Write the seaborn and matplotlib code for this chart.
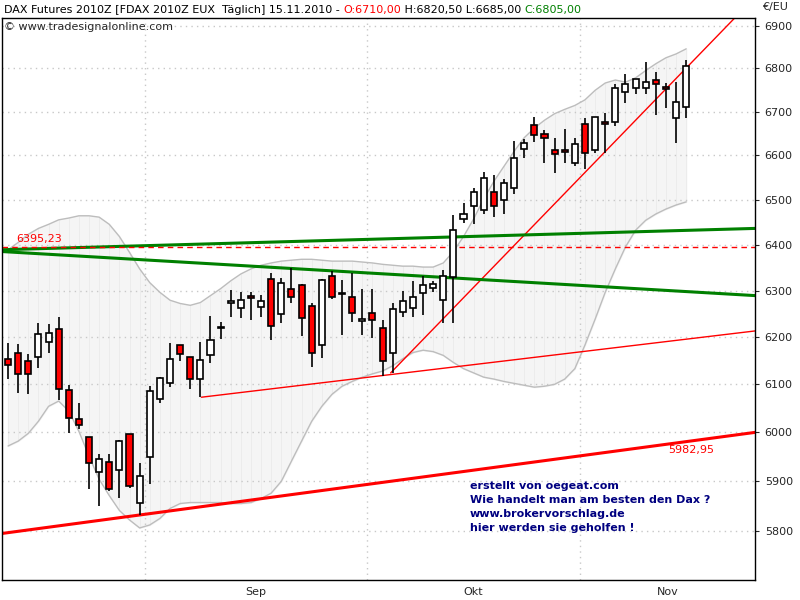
import numpy as np
import pandas as pd
import matplotlib
matplotlib.use("Agg")
import matplotlib.pyplot as plt
from matplotlib.ticker import FixedLocator, NullLocator
import seaborn as sns

dates = pd.bdate_range(end="2010-11-15", periods=68)
opens = [6154,6167,6150,6157,6189,6217,6088,6027,5990,5918,5939,5922,5996,5857,5949,6069,6102,6183,6157,6111,
         6161,6219,6274,6262,6289,6264,6325,6249,6304,6313,6266,6183,6332,6292,6287,6234,6251,6219,6166,6253,
         6262,6294,6306,6279,6330,6457,6486,6477,6516,6500,6527,6614,6669,6648,6612,6612,6583,6671,6612,6675,
         6675,6745,6754,6754,6773,6757,6684,6710]
highs = [6187,6185,6165,6230,6228,6243,6098,6060,5990,5955,5955,5984,5996,5937,6096,6115,6187,6183,6157,6189,
         6245,6232,6302,6296,6296,6291,6338,6328,6349,6315,6272,6326,6343,6323,6338,6304,6304,6236,6272,6300,
         6321,6332,6320,6345,6466,6493,6525,6563,6556,6547,6633,6636,6688,6657,6640,6660,6640,6684,6688,6697,
         6764,6786,6775,6816,6791,6766,6768,6820.5]
lows = [6111,6081,6079,6135,6167,6067,5998,6006,5884,5851,5880,5867,5886,5831,5894,6060,6094,6150,6090,6073,
        6144,6196,6243,6240,6236,6243,6194,6230,6274,6202,6136,6155,6281,6204,6232,6204,6198,6117,6124,6243,
        6243,6247,6296,6230,6230,6447,6445,6468,6461,6468,6513,6593,6631,6583,6560,6583,6576,6569,6605,6605,
        6667,6719,6740,6740,6693,6709,6627,6685]
closes = [6141,6122,6122,6206,6209,6090,6029,6015,5937,5945,5884,5982,5890,5910,6085,6113,6154,6163,6111,6152,
          6194,6221,6276,6279,6283,6277,6223,6317,6285,6240,6166,6323,6287,6294,6251,6238,6236,6150,6260,6277,
          6285,6311,6315,6332,6433,6468,6518,6549,6486,6538,6593,6629,6645,6640,6602,6607,6626,6605,6688,6671,
          6754,6764,6775,6768,6764,6753,6722,6805]
band_upper = [6389,6405,6423,6436,6445,6455,6459,6464,6464,6461,6445,6418,6383,6347,6317,6296,6279,6272,6268,6274,
              6289,6304,6321,6336,6347,6355,6360,6364,6366,6368,6368,6366,6364,6364,6364,6362,6360,6357,6355,6353,
              6353,6351,6351,6360,6385,6418,6457,6502,6541,6575,6609,6640,6662,6680,6695,6705,6714,6727,6749,6766,
              6773,6768,6778,6795,6811,6825,6834,6846]
band_lower = [5972,5982,5998,6023,6054,6065,6044,6002,5951,5904,5871,5841,5822,5806,5812,5825,5845,5855,5857,5857,
              5857,5857,5855,5855,5857,5865,5876,5900,5941,5982,6023,6054,6079,6096,6106,6115,6122,6128,6139,6154,
              6167,6172,6169,6161,6146,6133,6124,6115,6111,6106,6102,6098,6094,6096,6100,6111,6133,6183,6238,6296,
              6347,6395,6432,6454,6468,6479,6488,6495]
# trend lines: (x index start, price start, x index end, price end)
support_thick = [-0.6, 5795, 73.8, 6000]
support_thin = [19.1, 6073, 73.8, 6213]
steep_red = [37.8, 6124, 73.8, 6969]
green_upper = [-0.6, 6389, 73.8, 6436]
green_lower = [-0.6, 6385, 73.8, 6289]
hline_level = 6395.23
yticks = [5800, 5900, 6000, 6100, 6200, 6300, 6400, 6500, 6600, 6700, 6800, 6900]
note_lines = ["erstellt von oegeat.com", "Wie handelt man am besten den Dax ?",
              "www.brokervorschlag.de", "hier werden sie geholfen !"]

sns.set_style("white")
fig = plt.figure(figsize=(8, 6), dpi=100)
ax = fig.add_axes([2/800, 20/600, 753/800, 562/600])
ax.set_yscale("log")
ax.set_xlim(-0.6, 73.8)
ax.set_ylim(5703, 6919)

x = np.arange(len(opens))
df = pd.DataFrame({"x": x, "up": band_upper, "lo": band_lower})
ax.fill_between(x, band_lower, band_upper, color="#f5f5f5", zorder=0)
for xi in x:
    ax.vlines(xi, band_lower[xi], band_upper[xi], color="#ebebeb", lw=0.6, zorder=0)
sns.lineplot(data=df, x="x", y="up", ax=ax, color="#bdbdbd", lw=1, zorder=1)
sns.lineplot(data=df, x="x", y="lo", ax=ax, color="#bdbdbd", lw=1, zorder=1)

for yv in yticks:
    ax.axhline(yv, color="#c8c8c8", ls=(0, (1, 3)), lw=1, zorder=0)

months = pd.Series(dates.month)
bounds = [i - 0.5 for i in range(1, len(dates)) if months[i] != months[i-1]]
for b in bounds:
    ax.axvline(b, color="#c8c8c8", ls=(0, (1, 3)), lw=1, zorder=0)

def seg(s, **kw):
    ax.plot([s[0], s[2]], [s[1], s[3]], **kw)

seg(support_thick, color="#ff0000", lw=2.2, zorder=2)
seg(support_thin, color="#ff0000", lw=1, zorder=2)
seg(steep_red, color="#ff0000", lw=1, zorder=2)
seg(green_upper, color="#008000", lw=2.2, zorder=2)
seg(green_lower, color="#008000", lw=2.2, zorder=2)
ax.axhline(hline_level, color="#ff0000", ls=(0, (4, 3)), lw=1, zorder=2)
ax.text(0.8, hline_level * 1.001, "6395,23", color="#ff0000", fontsize=8, va="bottom")
ax.text(67.5, 5963, "5982,95", color="#ff0000", fontsize=8, ha="center", va="center")

for i in x:
    o, h, l, c = opens[i], highs[i], lows[i], closes[i]
    ax.vlines(i, l, h, color="black", lw=1.2, zorder=3)
    lo_b, hi_b = min(o, c), max(o, c)
    if hi_b - lo_b < 3:
        hi_b = lo_b + 3
    ax.bar(i, hi_b - lo_b, bottom=lo_b, width=0.6,
           color="#ff0000" if c < o else "white", edgecolor="black", lw=1.2, zorder=4)

for k, t in enumerate(note_lines):
    fig.text(470/800, 1 - (486 + k*14)/600, t, color="#000080", fontsize=8, fontweight="bold", va="center")

ax.yaxis.tick_right()
ax.yaxis.set_major_locator(FixedLocator(yticks))
ax.yaxis.set_minor_locator(NullLocator())
ax.set_yticklabels([str(v) for v in yticks], fontsize=8)
ax.tick_params(axis="y", length=3, pad=4)
ax.set_ylabel("")
ax.set_xlabel("")
ax.xaxis.set_minor_locator(FixedLocator(bounds))
ax.tick_params(axis="x", which="minor", length=4)
centers = []
edges = [-0.6] + bounds + [73.8]
labels = []
names = {9: "Sep", 10: "Okt", 11: "Nov"}
for a, b in zip(edges[:-1], edges[1:]):
    m = dates[int(np.ceil(a + 0.5)) if a > 0 else 0].month
    if m in names:
        centers.append((a + b) / 2 if m != 11 else 65.2)
        labels.append(names[m])
ax.xaxis.set_major_locator(FixedLocator(centers))
ax.set_xticklabels(labels, fontsize=8)
ax.tick_params(axis="x", which="major", length=0, pad=5)
for s in ax.spines.values():
    s.set_color("black")
    s.set_linewidth(1)

fig.text(775/800, 1 - 7/600, "€/EU", fontsize=8, va="center", ha="center")
y0 = 1 - 10/600
parts = [("DAX Futures 2010Z [FDAX 2010Z EUX  Täglich] 15.11.2010 - ", "black"),
         ("O:6710,00", "#ff0000"), (" H:6820,50 L:6685,00 ", "black"), ("C:6805,00", "#008000")]
fig.canvas.draw()
xpos = 4/800
r = fig.canvas.get_renderer()
for t, col in parts:
    tx = fig.text(xpos, y0, t, color=col, fontsize=8, va="center")
    bb = tx.get_window_extent(renderer=r)
    xpos += bb.width / 800
fig.text(4/800, 1 - 27/600, "© www.tradesignalonline.com", fontsize=8, va="center")

fig.savefig("out.png", dpi=100, facecolor="white")
